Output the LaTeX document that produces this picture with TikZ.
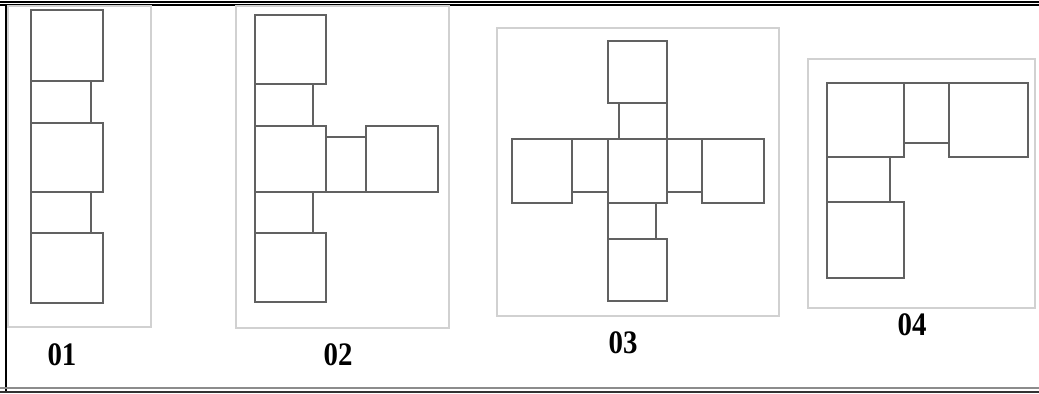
\documentclass[tikz,border=0pt]{standalone}
\usepackage{fontspec}
\setmainfont{Liberation Serif}

\begin{document}
\begin{tikzpicture}[x=.15mm,y=-.15mm,
  frame/.style={draw=black!18,line width=.45pt},
  room/.style={draw=black!62,line width=.65pt},
  plannum/.style={font=\fontsize{14}{16}\selectfont\bfseries,xscale=.88,transform shape},
  border/.style={line width=.9pt}
]
 \path[use as bounding box] (0,0) rectangle (1039,394);

 % outer border of the figure
 \draw[border,black] (0,2) -- (1039,2);
 \draw[border,black] (0,5) -- (1039,5);
 \draw[border,black] (6,5) -- (6,392);
 \draw[border,black!45] (0,388) -- (1039,388);
 \draw[border,black!80] (0,392) -- (1039,392);

 % light frames round the four plans
 \draw[frame] (8,6) rectangle (151,327);
 \draw[frame] (236,6) rectangle (449,328);
 \draw[frame] (497,28) rectangle (779,316);
 \draw[frame] (808,59) rectangle (1035,308);

 % Plan 01: a straight row of rooms
 \foreach \ya/\yb in {10/81,123/192,233/303}
   \draw[room] (31,\ya) rectangle (103,\yb);
 \foreach \ya/\yb in {81/123,192/233}
   \draw[room] (31,\ya) rectangle (91,\yb);
 \node[plannum] (n01) at (62,355) {01};

 % Plan 02: row with one branch to the right
 \foreach \ya/\yb in {15/84,126/192,233/302}
   \draw[room] (255,\ya) rectangle (326,\yb);
 \foreach \ya/\yb in {84/126,192/233}
   \draw[room] (255,\ya) rectangle (313,\yb);
 \draw[room] (326,137) rectangle (366,192);
 \draw[room] (366,126) rectangle (438,192);
 \node[plannum] (n02) at (338,355) {02};

 % Plan 03: cross round a central room
 \draw[room] (608,41) rectangle (667,103);
 \draw[room] (619,103) rectangle (667,139);
 \draw[room] (608,139) rectangle (667,203);
 \draw[room] (512,139) rectangle (572,203);
 \draw[room] (572,139) rectangle (608,192);
 \draw[room] (667,139) rectangle (702,192);
 \draw[room] (702,139) rectangle (764,203);
 \draw[room] (608,203) rectangle (656,239);
 \draw[room] (608,239) rectangle (667,301);
 \node[plannum] (n03) at (623,343) {03};

 % Plan 04: L-shaped arrangement
 \draw[room] (827,83) rectangle (904,157);
 \draw[room] (904,83) rectangle (949,143);
 \draw[room] (949,83) rectangle (1028,157);
 \draw[room] (827,157) rectangle (890,202);
 \draw[room] (827,202) rectangle (904,278);
 \node[plannum] (n04) at (912,325) {04};
\end{tikzpicture}
\end{document}
